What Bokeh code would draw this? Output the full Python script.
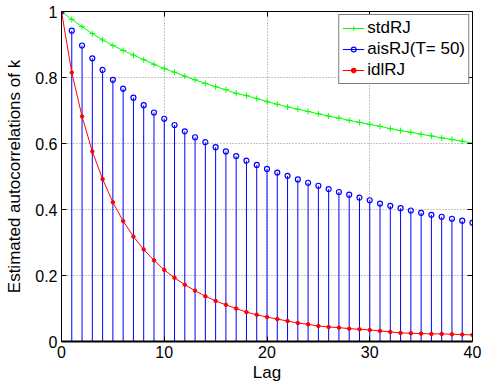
from bokeh.plotting import figure
from bokeh.models import (Range1d, FixedTicker, LinearAxis, Legend, LegendItem)
from bokeh.embed import file_html
from bokeh.resources import INLINE

# Estimated autocorrelations of k for lags 0..40
lags = list(range(41))

std_rj = [1.000, 0.976, 0.954, 0.933, 0.914, 0.897, 0.882, 0.868, 0.854, 0.840,
          0.827, 0.816, 0.804, 0.793, 0.782, 0.772, 0.763, 0.752, 0.745, 0.736,
          0.727, 0.719, 0.711, 0.704, 0.697, 0.690, 0.683, 0.677, 0.670, 0.664,
          0.658, 0.652, 0.645, 0.639, 0.634, 0.628, 0.623, 0.617, 0.612, 0.607,
          0.601]

ais_rj = [1.000, 0.942, 0.897, 0.858, 0.823, 0.793, 0.766, 0.739, 0.716, 0.694,
          0.675, 0.656, 0.637, 0.619, 0.604, 0.589, 0.576, 0.562, 0.548, 0.535,
          0.523, 0.512, 0.502, 0.491, 0.481, 0.472, 0.462, 0.453, 0.445, 0.436,
          0.428, 0.418, 0.411, 0.404, 0.397, 0.390, 0.384, 0.378, 0.372, 0.366,
          0.360]

idl_rj = [1.000, 0.815, 0.682, 0.576, 0.492, 0.422, 0.365, 0.318, 0.279, 0.246,
          0.217, 0.193, 0.172, 0.154, 0.137, 0.123, 0.111, 0.100, 0.089, 0.081,
          0.074, 0.068, 0.062, 0.056, 0.052, 0.047, 0.044, 0.042, 0.039, 0.037,
          0.035, 0.032, 0.029, 0.026, 0.025, 0.024, 0.023, 0.023, 0.022, 0.021,
          0.020]

series_labels = ["stdRJ", "aisRJ(T= 50)", "idlRJ"]
x_ticks = [0, 10, 20, 30, 40]
y_ticks = [0, 0.2, 0.4, 0.6, 0.8, 1]
y_tick_labels = ["0", "0.2", "0.4", "0.6", "0.8", "1"]

FONT = "Liberation Sans"
zero = [0] * len(lags)

p = figure(width=483, height=387, output_backend="svg", toolbar_location=None,
           x_range=Range1d(0, 40), y_range=Range1d(0, 1),
           min_border_left=61, min_border_right=11,
           min_border_top=11, min_border_bottom=46,
           x_axis_label="Lag", y_axis_label="Estimated autocorrelations of k")
p.outline_line_color = None
p.background_fill_color = "white"
p.border_fill_color = "white"

# green line with + markers
g_line = p.line(lags, std_rj, color="#00ff00", line_width=1)
g_mark = p.scatter(lags, std_rj, marker="cross", size=6, line_color="#00ff00", line_width=1)

# blue stems with open circles
b_stem = p.segment(x0=lags, y0=zero, x1=lags, y1=ais_rj, line_color="#0000ff", line_width=1)
b_mark = p.scatter(lags, ais_rj, marker="circle", size=5, line_color="#0000ff",
                   fill_color=None, line_width=1.2)

# red line with dot markers
r_line = p.line(lags, idl_rj, color="#ff0000", line_width=1)
r_mark = p.scatter(lags, idl_rj, marker="circle", size=3.5, line_color="#ff0000",
                   fill_color="#ff0000")

# axes
for ax in (p.xaxis[0], p.yaxis[0]):
    ax.major_tick_in = 5
    ax.major_tick_out = 0
    ax.minor_tick_line_color = None
    ax.axis_line_color = "black"
    ax.major_label_text_font = FONT
    ax.major_label_text_font_size = "16px"
    ax.major_label_text_color = "black"
    ax.axis_label_text_font = FONT
    ax.axis_label_text_font_size = "17px"
    ax.axis_label_text_font_style = "normal"
    ax.axis_label_text_color = "black"

p.xaxis[0].ticker = FixedTicker(ticks=x_ticks)
p.yaxis[0].ticker = FixedTicker(ticks=y_ticks)
p.yaxis[0].major_label_overrides = {t: s for t, s in zip(y_ticks, y_tick_labels)}
p.xaxis[0].axis_line_width = 2
p.xaxis[0].major_label_standoff = 4
p.xaxis[0].axis_label_standoff = 2
p.yaxis[0].major_label_standoff = 4
p.yaxis[0].axis_label_standoff = 8

# box axes on top and right with inward ticks only, no labels
for loc, ticks in (("above", x_ticks), ("right", y_ticks)):
    box_ax = LinearAxis(ticker=FixedTicker(ticks=ticks), major_tick_in=5, major_tick_out=0,
                        minor_tick_line_color=None, major_label_text_color=None,
                        major_label_text_font_size="1px", major_label_standoff=0,
                        axis_line_color="black")
    p.add_layout(box_ax, loc)

# dotted grid
for g in (p.xgrid[0], p.ygrid[0]):
    g.grid_line_color = "#8c8c8c"
    g.grid_line_dash = "1 2"
    g.grid_line_width = 1
p.xgrid[0].ticker = FixedTicker(ticks=x_ticks)
p.ygrid[0].ticker = FixedTicker(ticks=y_ticks)

legend = Legend(items=[
    LegendItem(label=series_labels[0], renderers=[g_line, g_mark]),
    LegendItem(label=series_labels[1], renderers=[b_stem, b_mark]),
    LegendItem(label=series_labels[2], renderers=[r_line, r_mark]),
], location="top_right")
legend.border_line_color = "black"
legend.border_line_width = 1
legend.background_fill_color = "white"
legend.background_fill_alpha = 1
legend.label_text_font = FONT
legend.label_text_font_size = "17px"
legend.label_text_color = "black"
legend.glyph_width = 22
legend.glyph_height = 12
legend.label_height = 20
legend.spacing = 1
legend.padding = 3
legend.margin = 3
legend.label_standoff = 3
p.add_layout(legend)

open("out.html", "w").write(file_html(p, INLINE))
